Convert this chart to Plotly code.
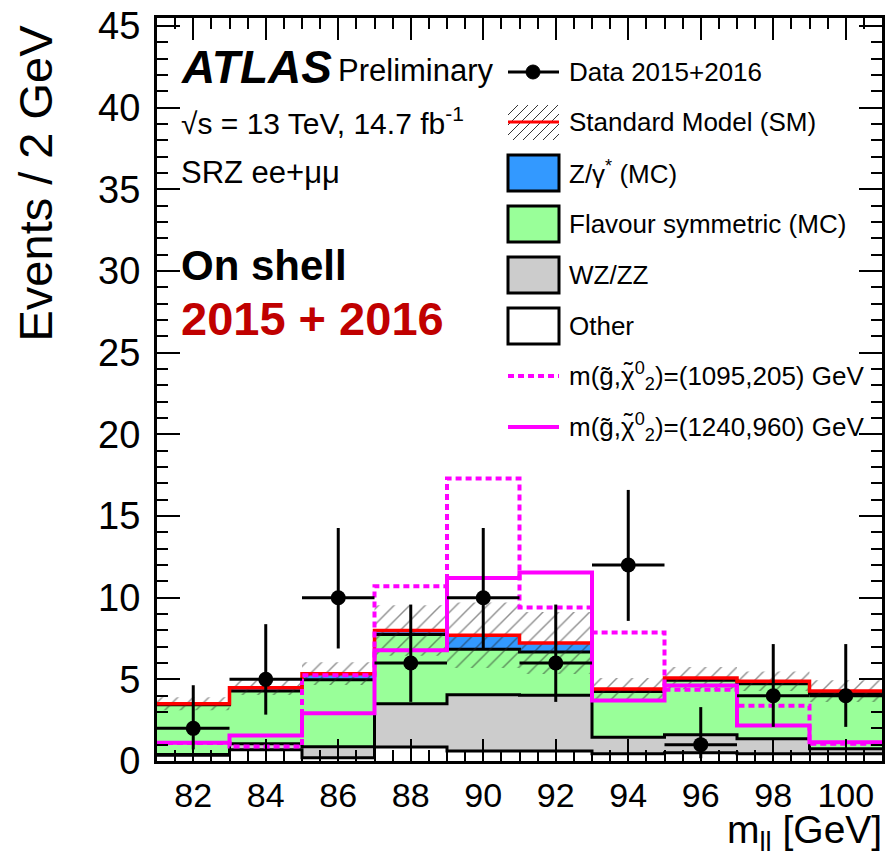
import plotly.graph_objects as go

# bins of m_ll (GeV)
edges = [81, 83, 85, 87, 89, 91, 93, 95, 97, 99, 101]
centers = [82, 84, 86, 88, 90, 92, 94, 96, 98, 100]

# background components (events / 2 GeV)
other = [0.35, 0.69, 0.20, 0.85, 0.62, 0.62, 0.45, 0.50, 0.45, 0.45]
wzzz = [0.05, 0.36, 0.67, 2.66, 3.44, 3.40, 1.01, 1.10, 0.91, 0.30]
flav_sym = [3.05, 3.23, 4.11, 4.23, 2.78, 2.66, 2.80, 3.34, 3.37, 3.37]
zgamma = [0.06, 0.21, 0.37, 0.25, 0.86, 0.55, 0.15, 0.14, 0.15, 0.16]
sm_unc = [0.40, 0.45, 0.70, 1.55, 2.00, 1.90, 0.67, 0.68, 0.60, 0.66]

# signal points
sig_1095_205 = [1.10, 0.89, 5.25, 10.7, 17.3, 9.40, 7.87, 4.37, 3.39, 1.05]
sig_1240_960 = [1.12, 1.56, 2.93, 6.78, 11.2, 11.55, 3.71, 4.63, 2.18, 1.15]

# data
data = [2, 5, 10, 6, 10, 6, 12, 1, 4, 4]
data_err_hi = [2.64, 3.38, 4.27, 3.58, 4.27, 3.58, 4.60, 2.30, 3.16, 3.16]
data_err_lo = [1.29, 2.16, 3.11, 2.38, 3.11, 2.38, 3.42, 0.83, 1.91, 1.91]
bin_width = 2

FONT = "Liberation Sans, Arial, sans-serif"


def step(vals):
    return list(vals) + [vals[-1]]


def cumsum(*parts):
    out = []
    for i in range(len(parts[0])):
        out.append(sum(p[i] for p in parts))
    return out


top_other = cumsum(other)
top_wz = cumsum(other, wzzz)
top_fs = cumsum(other, wzzz, flav_sym)
top_sm = cumsum(other, wzzz, flav_sym, zgamma)
sm_lo = [s - u for s, u in zip(top_sm, sm_unc)]
sm_hi = [s + u for s, u in zip(top_sm, sm_unc)]

fig = go.Figure()

stack = [
    (top_other, "white", "tozeroy"),
    (top_wz, "#cccccc", "tonexty"),
    (top_fs, "#99ff99", "tonexty"),
]
for vals, col, fill in stack:
    fig.add_trace(go.Scatter(x=edges, y=step(vals), mode="lines", line_shape="hv",
                             line=dict(color="black", width=3), fill=fill,
                             fillcolor=col, showlegend=False, hoverinfo="skip"))
fig.add_trace(go.Scatter(x=edges, y=step(top_sm), mode="lines", line_shape="hv",
                         line=dict(color="black", width=0), fill="tonexty",
                         fillcolor="#3399ff", showlegend=False, hoverinfo="skip"))

# SM uncertainty hatch
fig.add_trace(go.Scatter(x=edges, y=step(sm_lo), mode="lines", line_shape="hv",
                         line=dict(width=0), showlegend=False, hoverinfo="skip"))
fig.add_trace(go.Scatter(x=edges, y=step(sm_hi), mode="lines", line_shape="hv",
                         line=dict(width=0), fill="tonexty", fillcolor="rgba(0,0,0,0)",
                         fillpattern=dict(shape="/", size=11, solidity=0.13,
                                          fgcolor="#222222", bgcolor="rgba(0,0,0,0)"),
                         showlegend=False, hoverinfo="skip"))
fig.add_trace(go.Scatter(x=edges, y=step(top_sm), mode="lines", line_shape="hv",
                         line=dict(color="red", width=3.5), showlegend=False))

fig.add_trace(go.Scatter(x=edges, y=step(sig_1095_205), mode="lines", line_shape="hv",
                         line=dict(color="#ff00ff", width=4, dash="6px,4px"), showlegend=False))
fig.add_trace(go.Scatter(x=edges, y=step(sig_1240_960), mode="lines", line_shape="hv",
                         line=dict(color="#ff00ff", width=4), showlegend=False))

fig.add_trace(go.Scatter(
    x=centers, y=data, mode="markers",
    marker=dict(color="black", size=15, symbol="circle"),
    error_y=dict(type="data", symmetric=False, array=data_err_hi, arrayminus=data_err_lo,
                 color="black", thickness=3, width=0),
    error_x=dict(type="constant", value=bin_width / 2, color="black", thickness=3, width=0),
    showlegend=False))

# pixel helpers for the text / legend block
L, R, T, B = 157, 882, 18, 761


def fx(px):
    return (px - L) / (R - L)


def fy(py):
    return (B - py) / (B - T)


ann = []


def text(px, py, s, size, xanchor="left", yanchor="middle", color="black", angle=0):
    ann.append(dict(x=fx(px), y=fy(py), xref="paper", yref="paper", text=s, showarrow=False,
                    xanchor=xanchor, yanchor=yanchor, textangle=angle, borderpad=0,
                    font=dict(size=size, color=color, family=FONT)))


text(180, 67, "<b><i>ATLAS</i></b>", 46)
text(337, 71, "Preliminary", 31)
text(180, 121, "√s = 13 TeV, 14.7 fb<sup>-1</sup>", 30)
text(180, 173, "SRZ ee+μμ", 31)
text(180, 265, "<b>On shell</b>", 42)
text(180, 318, "<b>2015 + 2016</b>", 47, color="#c00000")

text(35, 24, "Events / 2 GeV", 47, xanchor="center", yanchor="top", angle=-90)
text(883, 858, "m<sub>ll</sub> [GeV]", 39, xanchor="right", yanchor="bottom")

shapes = []


def pbox(x0, y0, x1, y1, fill):
    shapes.append(dict(type="rect", xref="paper", yref="paper", x0=fx(x0), x1=fx(x1),
                       y0=fy(y1), y1=fy(y0), fillcolor=fill, line=dict(color="black", width=3)))


def pline(x0, y0, x1, y1, color, width, dash="solid"):
    shapes.append(dict(type="line", xref="paper", yref="paper", x0=fx(x0), x1=fx(x1),
                       y0=fy(y0), y1=fy(y1), line=dict(color=color, width=width, dash=dash)))


lx0, lx1, tx = 508, 559, 568
labels = ["Data 2015+2016", "Standard Model (SM)", "Z/γ<sup>*</sup> (MC)",
          "Flavour symmetric (MC)", "WZ/ZZ", "Other",
          "m(g̃,χ<sup>0</sup><sub>2</sub>)=(1095,205) GeV",
          "m(g̃,χ<sup>0</sup><sub>2</sub>)=(1240,960) GeV"]
rows = [72, 122, 173, 224, 275, 326, 376, 427]
for lab, ry in zip(labels, rows):
    text(tx, ry, lab, 26)
# tilde over the neutralino symbol
for ry in rows[6:]:
    text(628, ry - 5, "˜", 26, xanchor="center")

# data entry
pline(lx0, 72, lx1, 72, "black", 3)
shapes.append(dict(type="circle", xref="paper", yref="paper", x0=fx(526), x1=fx(540),
                   y0=fy(79), y1=fy(65), fillcolor="black", line=dict(color="black", width=1)))
# SM hatch entry
hy0, hy1 = 105, 140
c = lx0 + hy0
while c <= lx1 + hy1:
    xa, xb = max(lx0, c - hy1), min(lx1, c - hy0)
    if xb > xa:
        pline(xa, c - xa, xb, c - xb, "#333333", 1)
    c += 10
pline(lx0, 122, lx1, 122, "red", 3)
for ry, col in zip(rows[2:6], ["#3399ff", "#99ff99", "#cccccc", "white"]):
    pbox(lx0, ry - 18, lx1, ry + 18, col)
pline(lx0, 376, lx1, 376, "#ff00ff", 4, "6px,4px")
pline(lx0, 427, lx1, 427, "#ff00ff", 4)

axis_common = dict(showline=True, linecolor="black", linewidth=3, mirror="allticks",
                   ticks="inside", tickcolor="black", tickwidth=1.5, showgrid=False,
                   zeroline=False, automargin=False)

fig.update_layout(
    width=885, height=858,
    margin=dict(l=L, r=885 - R, t=T, b=858 - B),
    plot_bgcolor="white", paper_bgcolor="white",
    font=dict(family=FONT, color="black"),
    annotations=ann, shapes=shapes,
    xaxis=dict(range=[81, 101], dtick=2, tick0=82, ticklen=22,
               minor=dict(dtick=0.5, ticklen=11, ticks="inside", tickcolor="black", tickwidth=1.5),
               tickfont=dict(size=34, family=FONT), ticklabelstandoff=2, **axis_common),
    yaxis=dict(range=[0, 45.5], dtick=5, ticklen=23,
               minor=dict(dtick=1, ticklen=11, ticks="inside", tickcolor="black", tickwidth=1.5),
               tickfont=dict(size=38, family=FONT), ticklabelstandoff=6, **axis_common),
)

# page body has a default 8px margin; remove it so the figure sits at the window origin
fig.write_html("out.html", config={"displayModeBar": False},
               post_script="document.body.style.margin = '0';")
